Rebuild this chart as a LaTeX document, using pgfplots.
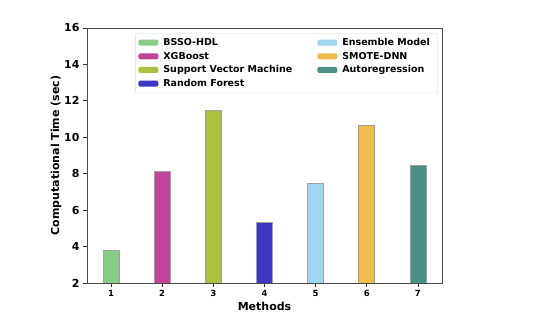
\documentclass[border=0pt]{standalone}
\usepackage{fontspec}
\setmainfont{DejaVu Sans}
\usepackage{pgfplots}
\pgfplotsset{compat=1.18}

\definecolor{cA}{HTML}{88CC88}
\definecolor{cB}{HTML}{C04497}
\definecolor{cC}{HTML}{AEC13F}
\definecolor{cD}{HTML}{3C37C4}
\definecolor{cE}{HTML}{9FD7F0}
\definecolor{cF}{HTML}{F0BC4B}
\definecolor{cG}{HTML}{4C8F85}
\definecolor{edge}{HTML}{A0A0A0}

\begin{document}
\begin{tikzpicture}
\begin{axis}[
    scale only axis,
    width=355pt, height=255pt,
    ybar, bar width=16pt, bar shift=0pt,
    xmin=0.53, xmax=7.47,
    ymin=2, ymax=16,
    xtick={1,2,3,4,5,6,7},
    ytick={2,4,6,8,10,12,14,16},
    tick align=outside, tick pos=left,
    axis line style={black!70, line width=0.8pt},
    major tick style={black!80, line width=0.8pt},
    major tick length=4pt,
    x tick label style={font=\bfseries\fontsize{8.5}{9}\selectfont},
    y tick label style={font=\bfseries\fontsize{11}{12}\selectfont},
    /pgf/number format/assume math mode=true,
    xlabel={\bfseries Methods},
    ylabel={\bfseries Computational Time (sec)},
    label style={font=\bfseries\fontsize{11}{13}\selectfont},
    ylabel style={yshift=-4pt},
    xlabel style={yshift=2pt},
    every axis plot/.append style={draw=edge, line width=0.9pt},
    legend columns=2,
    legend style={at={(0.989,0.98)}, anchor=north east,
        draw=black!15, rounded corners=2pt,
        font=\bfseries\fontsize{9.5}{10}\selectfont,
        /tikz/every even column/.append style={column sep=20pt},
        row sep=1pt, inner xsep=3pt, inner ysep=3pt,
        nodes={inner xsep=5pt}},
    legend image code/.code={\fill[#1,draw=none] (0pt,-3pt) rectangle (20pt,3pt);},
    legend cell align=left,
]
\addplot[fill=cA] coordinates {(1,3.76)};
\addplot[fill=cE] coordinates {(5,7.44)};
\addplot[fill=cB] coordinates {(2,8.10)};
\addplot[fill=cF] coordinates {(6,10.63)};
\addplot[fill=cC] coordinates {(3,11.50)};
\addplot[fill=cG] coordinates {(7,8.48)};
\addplot[fill=cD] coordinates {(4,5.30)};
\legend{BSSO-HDL, Ensemble Model, XGBoost, SMOTE-DNN, Support Vector Machine, Autoregression, Random Forest}
\end{axis}
\pgfresetboundingbox
\useasboundingbox (-87pt,-49pt) rectangle (460pt,283pt);
\end{tikzpicture}
\end{document}
